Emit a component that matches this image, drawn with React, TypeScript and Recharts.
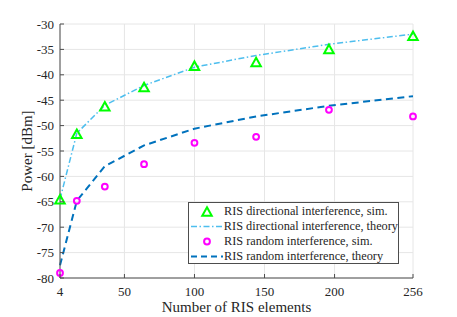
import React from 'react';
import { ComposedChart, Line, XAxis, YAxis, CartesianGrid, Label } from 'recharts';

const elements = [4, 16, 36, 64, 100, 144, 196, 256];
const dirSim = [-64.5, -51.6, -46.2, -42.4, -38.2, -37.5, -34.9, -32.3];
const dirTheory = [-64.5, -51.5, -46.0, -42.1, -38.5, -36.2, -34.0, -32.0];
const randSim = [-79.0, -64.8, -62.0, -57.6, -53.4, -52.2, -46.9, -48.2];
const randTheory = [-77.5, -64.8, -58.0, -53.9, -50.6, -48.2, -46.1, -44.2];

const xTicks = [4, 50, 100, 150, 200, 256];
const yTicks = [-80, -75, -70, -65, -60, -55, -50, -45, -40, -35, -30];

const legendLabels = [
  'RIS directional interference, sim.',
  'RIS directional interference, theory',
  'RIS random interference, sim.',
  'RIS random interference, theory',
];

const data = elements.map((n, i) => ({
  n,
  dirSim: dirSim[i],
  dirTheory: dirTheory[i],
  randSim: randSim[i],
  randTheory: randTheory[i],
}));

const FONT = '"Liberation Serif", "DejaVu Serif", serif';
const AXIS = '#4d4d4d';
const TEXT = '#262626';
const GREEN = '#00ff00';
const CYAN = '#4dbeee';
const MAGENTA = '#ff00ff';
const BLUE = '#0072bd';
const DASHDOT = '6 2.5 1.5 2.5';
const DASH = '7 4.5';

const tri = (cx: number, cy: number) => {
  const h = 8.5;
  const w = 9.5;
  return `M${cx},${cy - h / 2} L${cx + w / 2},${cy + h / 2} L${cx - w / 2},${cy + h / 2} Z`;
};

const TriDot = (props: any) => {
  const { cx, cy, index } = props;
  if (cx == null || cy == null) return <g key={`t${index}`} />;
  return <path key={`t${index}`} d={tri(cx, cy)} fill="none" stroke={GREEN} strokeWidth={2} strokeLinejoin="miter" />;
};

const CircDot = (props: any) => {
  const { cx, cy, index } = props;
  if (cx == null || cy == null) return <g key={`c${index}`} />;
  return <circle key={`c${index}`} cx={cx} cy={cy} r={2.9} fill="none" stroke={MAGENTA} strokeWidth={2} />;
};

const BottomTick = (props: any) => {
  const { x, y, payload } = props;
  return (
    <g>
      <line x1={x} y1={y} x2={x} y2={y - 4} stroke={AXIS} />
      <text x={x} y={y + 18} textAnchor="middle" fill={TEXT} fontSize={13} fontFamily={FONT}>
        {payload.value}
      </text>
    </g>
  );
};

const TopTick = (props: any) => {
  const { x, y } = props;
  return <line x1={x} y1={y} x2={x} y2={y + 4} stroke={AXIS} />;
};

const LeftTick = (props: any) => {
  const { x, y, payload } = props;
  return (
    <g>
      <line x1={x} y1={y} x2={x + 4} y2={y} stroke={AXIS} />
      <text x={x - 6} y={y + 4.5} textAnchor="end" fill={TEXT} fontSize={13} fontFamily={FONT}>
        {payload.value}
      </text>
    </g>
  );
};

const RightTick = (props: any) => {
  const { x, y } = props;
  return <line x1={x} y1={y} x2={x - 4} y2={y} stroke={AXIS} />;
};

const LegendSymbol = ({ i }: { i: number }) => (
  <svg width={34} height={15} style={{ display: 'block' }}>
    {i === 0 && <path d={tri(18, 7.5)} fill="none" stroke={GREEN} strokeWidth={2} />}
    {i === 1 && <line x1={2} y1={7.5} x2={34} y2={7.5} stroke={CYAN} strokeWidth={1.5} strokeDasharray={DASHDOT} />}
    {i === 2 && <circle cx={18} cy={7.5} r={2.9} fill="none" stroke={MAGENTA} strokeWidth={2} />}
    {i === 3 && <line x1={2} y1={7.5} x2={34} y2={7.5} stroke={BLUE} strokeWidth={2} strokeDasharray="6 4" />}
  </svg>
);

export default function App() {
  return (
    <div style={{ position: 'absolute', left: 0, top: 0, width: 457, height: 317, background: '#fff' }}>
      <ComposedChart width={457} height={317} data={data} margin={{ top: 24, right: 44, bottom: 0, left: 0 }}>
        <CartesianGrid stroke="#e6e6e6" strokeWidth={1} />
        <XAxis
          dataKey="n"
          type="number"
          domain={[4, 256]}
          ticks={xTicks}
          height={39}
          tickSize={0}
          tickMargin={0}
          tickLine={false}
          axisLine={{ stroke: AXIS }}
          tick={<BottomTick />}
          interval={0}
        >
          <Label value="Number of RIS elements" position="insideBottom" offset={5} fill={TEXT} fontSize={15} fontFamily={FONT} />
        </XAxis>
        <XAxis
          xAxisId="top"
          orientation="top"
          dataKey="n"
          type="number"
          domain={[4, 256]}
          ticks={xTicks}
          height={0}
          tickSize={0}
          tickMargin={0}
          tickLine={false}
          axisLine={{ stroke: AXIS }}
          tick={<TopTick />}
          interval={0}
        />
        <YAxis
          type="number"
          domain={[-80, -30]}
          ticks={yTicks}
          width={60}
          tickSize={0}
          tickMargin={0}
          tickLine={false}
          axisLine={{ stroke: AXIS }}
          tick={<LeftTick />}
          interval={0}
        >
          <Label
            content={(p: any) => {
              const vb = p.viewBox || { x: 0, y: 24, width: 60, height: 254 };
              const cx = vb.x + 27;
              const cy = vb.y + vb.height / 2;
              return (
                <text x={cx} y={cy} transform={`rotate(-90 ${cx} ${cy})`} textAnchor="middle" dominantBaseline="central" fill={TEXT} fontSize={15} fontFamily={FONT}>
                  Power [dBm]
                </text>
              );
            }}
          />
        </YAxis>
        <YAxis
          yAxisId="right"
          orientation="right"
          type="number"
          domain={[-80, -30]}
          ticks={yTicks}
          width={0}
          tickSize={0}
          tickMargin={0}
          tickLine={false}
          axisLine={{ stroke: AXIS }}
          tick={<RightTick />}
          interval={0}
        />
        <Line dataKey="dirTheory" type="linear" stroke={CYAN} strokeWidth={1.5} strokeDasharray={DASHDOT} dot={false} isAnimationActive={false} />
        <Line dataKey="randTheory" type="linear" stroke={BLUE} strokeWidth={2} strokeDasharray={DASH} dot={false} isAnimationActive={false} />
        <Line dataKey="dirSim" type="linear" stroke="none" dot={TriDot} activeDot={false} isAnimationActive={false} />
        <Line dataKey="randSim" type="linear" stroke="none" dot={CircDot} activeDot={false} isAnimationActive={false} />
      </ComposedChart>
      <div
        style={{
          position: 'absolute',
          left: 188,
          top: 202,
          width: 211,
          height: 62,
          boxSizing: 'border-box',
          border: `1px solid ${AXIS}`,
          background: '#fff',
          fontFamily: FONT,
          fontSize: 12.3,
          color: TEXT,
          padding: '1px 0 0 0',
        }}
      >
        {legendLabels.map((t, i) => (
          <div key={t} style={{ display: 'flex', alignItems: 'center', height: 15, whiteSpace: 'nowrap' }}>
            <LegendSymbol i={i} />
            <span style={{ marginLeft: 1 }}>{t}</span>
          </div>
        ))}
      </div>
    </div>
  );
}
